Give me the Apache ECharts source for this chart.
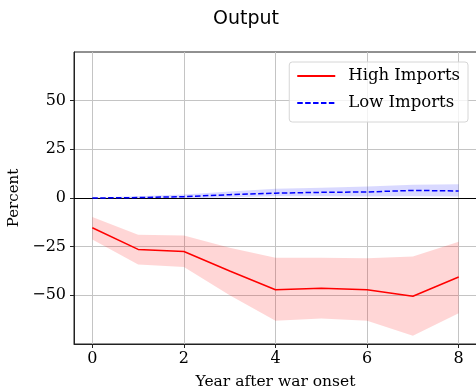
<!DOCTYPE html>
<html>
<head>
<meta charset="utf-8">
<script src="https://cdn.jsdelivr.net/npm/echarts@6/dist/echarts.min.js"></script>
<style>
  html, body { margin: 0; padding: 0; background: #fff; }
  #chart { width: 476px; height: 390px; }
</style>
</head>
<body>
<div id="chart"></div>
<script>
// Years after war onset
const years = [0, 1, 2, 3, 4, 5, 6, 7, 8];

// Output response, high-import countries (point estimate and confidence band)
const highImports = [-15.3, -26.4, -27.5, -37.5, -47.1, -46.4, -47.1, -50.5, -40.6];
const highLower   = [-21.3, -34.1, -35.5, -50.0, -63.1, -61.9, -63.1, -70.7, -59.2];
const highUpper   = [-9.7,  -18.9, -19.3, -25.5, -30.7, -30.7, -31.0, -30.0, -22.5];

// Output response, low-import countries (point estimate and confidence band)
const lowImports = [0.0, 0.2, 0.7, 1.7, 2.5, 2.9, 3.1, 3.9, 3.6];
const lowLower   = [-0.3, -0.4, -0.3, 0.4, 0.9, 0.9, 0.8, 0.9, 0.8];
const lowUpper   = [0.3, 0.9, 1.8, 3.3, 4.8, 5.3, 5.9, 6.8, 7.0];

const xTicks = [0, 2, 4, 6, 8];
const yTicks = [-50, -25, 0, 25, 50];

const pairs = (ys) => years.map((x, i) => [x, ys[i]]);
const minus = (v) => String(v).replace('-', '\u2212');

const serif = 'DejaVu Serif';

// Shaded band between a lower and an upper curve, projected through the axes
function bandSeries(lower, upper, fill) {
  return {
    type: 'custom',
    silent: true,
    z: 1,
    data: [0],
    renderItem: (params, api) => {
      const top = years.map((x, i) => api.coord([x, upper[i]]));
      const bottom = years.map((x, i) => api.coord([x, lower[i]])).reverse();
      return {
        type: 'polygon',
        shape: { points: top.concat(bottom) },
        style: { fill: fill, stroke: null }
      };
    }
  };
}

const chart = echarts.init(document.getElementById('chart'), null, { renderer: 'canvas' });

chart.setOption({
  animation: false,
  backgroundColor: '#ffffff',
  title: {
    text: 'Output',
    left: 241,
    top: 5,
    textAlign: 'center',
    textStyle: { fontFamily: 'DejaVu Sans', fontSize: 19, fontWeight: 'normal', color: '#000' }
  },
  grid: {
    left: 74, top: 52, right: -1, bottom: 46,
    outerBoundsMode: 'none',
    containLabel: false,
    show: true, borderColor: '#222', borderWidth: 1, backgroundColor: 'transparent'
  },
  legend: {
    data: ['High Imports', 'Low Imports'],
    orient: 'vertical',
    right: 8,
    top: 62,
    itemWidth: 38,
    itemHeight: 14,
    itemGap: 9,
    padding: [5, 8, 10, 7],
    backgroundColor: 'rgba(255,255,255,0.8)',
    borderColor: '#d6d6d6',
    borderWidth: 1,
    borderRadius: 3,
    itemStyle: { opacity: 0 },
    textStyle: { fontFamily: serif, fontSize: 16.5, color: '#000', lineHeight: 18, padding: [0, 0, 0, 8] }
  },
  xAxis: {
    type: 'value',
    min: -0.4,
    max: 8.4,
    name: 'Year after war onset',
    nameLocation: 'middle',
    nameGap: 30,
    nameTextStyle: { fontFamily: serif, fontSize: 15.5, color: '#000' },
    axisLine: { show: true, onZero: false, lineStyle: { color: '#222', width: 1 } },
    axisTick: { show: true, length: 4, customValues: xTicks, lineStyle: { color: '#222' } },
    axisLabel: { customValues: xTicks, margin: 7, fontFamily: serif, fontSize: 16, color: '#000' },
    splitLine: { show: true, customValues: xTicks, lineStyle: { color: '#c4c4c4', width: 1 } }
  },
  yAxis: {
    type: 'value',
    min: -75,
    max: 75,
    interval: 25,
    name: 'Percent',
    nameLocation: 'middle',
    nameGap: 48,
    nameTextStyle: { fontFamily: serif, fontSize: 15, color: '#000' },
    axisLine: { show: true, onZero: false, lineStyle: { color: '#222', width: 1 } },
    axisTick: { show: true, length: 4, customValues: yTicks, lineStyle: { color: '#222' } },
    axisLabel: {
      customValues: yTicks, margin: 8, fontFamily: serif, fontSize: 16, color: '#000',
      formatter: (v) => minus(v)
    },
    splitLine: { show: true, lineStyle: { color: '#c4c4c4', width: 1 } }
  },
  series: [
    bandSeries(highLower, highUpper, 'rgba(255,0,0,0.16)'),
    bandSeries(lowLower, lowUpper, 'rgba(0,0,255,0.15)'),
    {
      name: 'High Imports', type: 'line', data: pairs(highImports),
      symbol: 'none', z: 4, color: '#ff0000',
      lineStyle: { color: '#ff0000', width: 1.5 },
      markLine: {
        silent: true, symbol: 'none', label: { show: false },
        lineStyle: { color: '#000', width: 1.2, type: 'solid' },
        data: [{ yAxis: 0 }]
      }
    },
    {
      name: 'Low Imports', type: 'line', data: pairs(lowImports),
      symbol: 'none', z: 5, color: '#0000ff',
      lineStyle: { color: '#0000ff', width: 1.5, type: [5.5, 2.4] }
    }
  ]
});
</script>
</body>
</html>
